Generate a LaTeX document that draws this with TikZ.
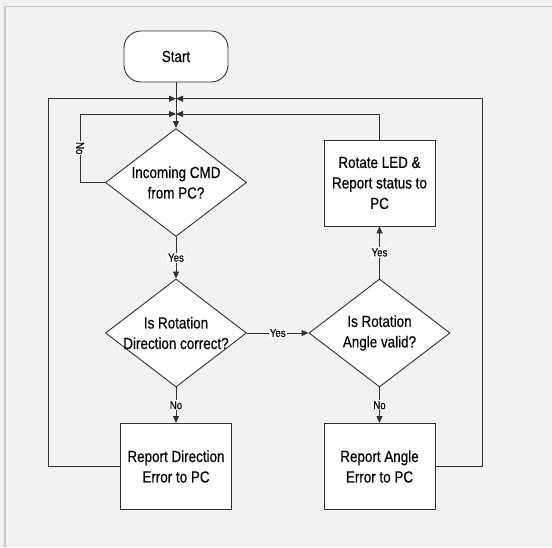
\documentclass[tikz,border=0pt]{standalone}
\usepackage{fontspec}
\setmainfont{Liberation Sans}[FakeStretch=0.84,FakeBold=0.4]
\usepackage{tikz}
\usetikzlibrary{arrows.meta,shapes.geometric}
\definecolor{pagegray}{HTML}{F2F2F2}
\definecolor{framegray}{HTML}{C8C8C8}
\definecolor{flowline}{HTML}{303030}

\begin{document}
\begin{tikzpicture}[
    x=1pt, y=-1pt,
    flowbox/.style={draw=flowline, line width=0.9pt, fill=white, align=center,
                    font=\fontsize{16}{20.5}\selectfont, inner sep=0pt},
    terminal/.style={flowbox, rounded corners=17pt, minimum width=104pt, minimum height=51pt},
    process/.style={flowbox, minimum width=111pt, minimum height=86pt},
    decision/.style={flowbox, diamond, inner xsep=-30pt, inner ysep=-15pt,
                     minimum width=141pt, minimum height=108pt},
    flow/.style={draw=flowline, line width=0.9pt, -{Triangle[length=7pt,width=6pt]}},
    tag/.style={fill=white, inner sep=1pt, font=\fontsize{11.5}{12}\selectfont},
]
\useasboundingbox (0,0) rectangle (552,547);
\fill[pagegray] (0,0) rectangle (552,547);
\draw[framegray, line width=1.3pt] (5,547) -- (5,6.5) -- (552,6.5);

\node[terminal] (start) at (176,56.5) {Start};
\node[decision] (cmd) at (176,182.5) {Incoming CMD\\from PC?};
\node[decision] (dir) at (176,333) {Is Rotation\\Direction correct?};
\node[decision] (ang) at (379.5,333) {Is Rotation\\Angle valid?};
\node[process] (rotate) at (379.5,183) {Rotate LED \&\\Report status to\\PC};
\node[process] (direrr) at (176,466.5) {Report Direction\\Error to PC};
\node[process] (angerr) at (379.5,466.5) {Report Angle\\Error to PC};

\coordinate (outer) at (176,98.7);
\coordinate (inner) at (176,114);

\draw[flow] (start) -- (cmd);
\draw[flow] (cmd) -- node[tag] {Yes} (dir);
\draw[flow] (dir) -- node[tag] {Yes} (ang);
\draw[flow] (ang) -- node[tag] {Yes} (rotate);
\draw[flow] (dir) -- node[tag] {No} (direrr);
\draw[flow] (ang) -- node[tag] {No} (angerr);

\draw[flow] (cmd.west) -- (80,182.5) -- node[tag, rotate=-90] {No} (80,114) -- (inner);
\draw[flow] (rotate.north) -- (379.5,114) -- (inner);
\draw[flow] (direrr.west) -- (48,466.5) -- (48,98.7) -- (outer);
\draw[flow] (angerr.east) -- (482,466.5) -- (482,98.7) -- (outer);
\end{tikzpicture}
\end{document}
